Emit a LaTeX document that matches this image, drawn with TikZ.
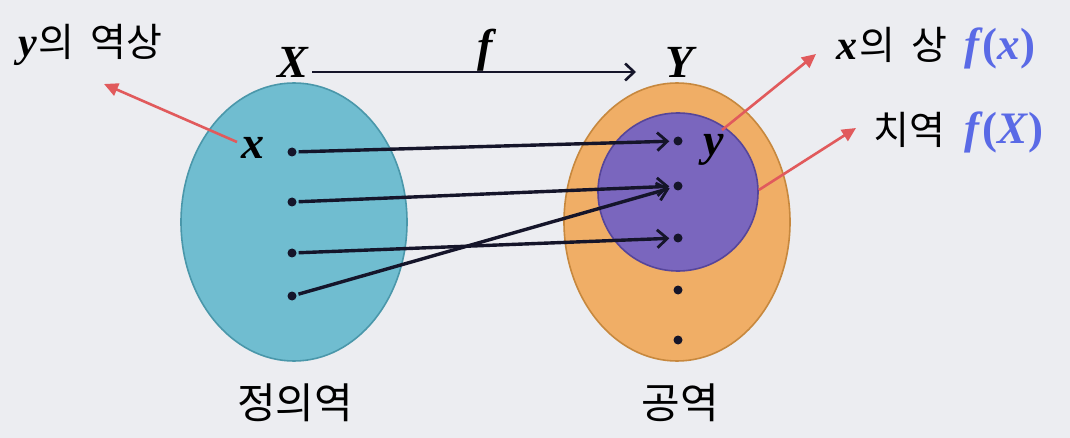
\documentclass[tikz,border=0pt]{standalone}
\usepackage{fontspec}
\newfontfamily\kr{Noto Sans CJK KR}
\newfontfamily\mfont{Liberation Serif}
\newcommand\mvar[1]{{\mfont\bfseries\itshape #1}}
\usetikzlibrary{shapes.geometric,arrows.meta,positioning,calc}
\definecolor{bg}{HTML}{ECEDF1}
\definecolor{dom}{HTML}{70BDD0}
\definecolor{domb}{HTML}{4A97AA}
\definecolor{cod}{HTML}{F0AE66}
\definecolor{codb}{HTML}{C7883E}
\definecolor{rng}{HTML}{7A66BE}
\definecolor{rngb}{HTML}{56459A}
\definecolor{redl}{HTML}{E15A5C}
\definecolor{bluef}{HTML}{5A6AE6}
\definecolor{ink}{HTML}{15152A}
\tikzset{
  dotn/.style={circle,fill=ink,inner sep=0pt,minimum size=9pt},
  maparrow/.style={draw=ink,line width=3.4pt,-{Straight Barb[length=10pt,width=18pt,line width=2.8pt]},shorten >=4pt,shorten <=2pt},
  redarrow/.style={draw=redl,line width=2.6pt,-{Triangle[length=14pt,width=13pt]}},
  kor/.style={font=\kr\fontsize{39}{40}\selectfont,inner sep=0pt},
  mth/.style={font=\mfont\bfseries\itshape\fontsize{46}{48}\selectfont,inner sep=0pt},
  fnl/.style={text=bluef,anchor=west,inner sep=0pt,font=\mfont\bfseries\fontsize{45}{48}\selectfont},
  blob/.style={ellipse,inner sep=0pt,line width=1.6pt}
}
\begin{document}
\begin{tikzpicture}[x=1pt,y=-1pt]
\fill[bg] (0,0) rectangle (1070,438);
\useasboundingbox (0,0) rectangle (1070,438);
% sets
\node[blob,draw=domb,fill=dom,minimum width=226pt,minimum height=278pt] (A) at (294,222) {};
\node[blob,draw=codb,fill=cod,minimum width=226pt,minimum height=278pt] (B) at (677,222) {};
\node[blob,draw=rngb,fill=rng,minimum width=160pt,minimum height=158pt] (R) at (678,192) {};
% dots
\node[dotn] (a1) at (292,152) {};
\node[dotn] (a2) at (292,202) {};
\node[dotn] (a3) at (292,253) {};
\node[dotn] (a4) at (292,296) {};
\node[dotn] (b1) at (678,141) {};
\node[dotn] (b2) at (678,186) {};
\node[dotn] (b3) at (678,238) {};
\node[dotn] (b4) at (678,290) {};
\node[dotn] (b5) at (678,340) {};
% mapping arrows
\draw[maparrow] (a1) -- (b1);
\draw[maparrow] (a2) -- (b2);
\draw[maparrow] (a3) -- (b3);
\draw[maparrow] (a4) -- (b2);
% labels X, Y, f
\node[mth] (X) at (293,62) {X};
\node[mth] (Y) at (680,62) {Y};
\node[mth] (f) at (485,50) {f};
\coordinate (xs) at (312,72);
\coordinate (ye) at (636,72);
\draw[draw=ink,line width=2.8pt,-{Straight Barb[length=9pt,width=17pt,line width=2.6pt]}] (xs) -- (ye);
% element labels
\node[mth] (x) at (253,148) {x};
\node[mth] (y) at (714,150) {y};
% red annotation arrows
\coordinate (t1) at (104,84);
\coordinate (t2) at (816,54);
\coordinate (t3) at (856,128);
\coordinate (s3) at ($(R.east)+(0,-2)$);
\draw[redarrow] (237,142) -- (t1);
\draw[redarrow] (722,130) -- (t2);
\draw[redarrow] (s3) -- (t3);
% text labels
\node[kor,anchor=west] (inv) at (18,45) {\mvar{\fontsize{42}{42}\selectfont y}\hspace{2pt}의\hspace{16pt}역상};
\node[kor,anchor=west] (img) at (836,45) {\mvar{\fontsize{42}{42}\selectfont x}\hspace{2pt}의\hspace{16pt}상};
\node[fnl] (fx) at (964,48) {\textit{f}(\textit{x})};
\node[kor,anchor=west] (ran) at (873,130) {치역};
\node[fnl] (fX) at (964,132) {\textit{f}(\textit{X})};
\node[kor,font=\kr\fontsize{42}{44}\selectfont] (domt) at (295,403) {정의역};
\node[kor,font=\kr\fontsize{42}{44}\selectfont] (codt) at (680,403) {공역};
\end{tikzpicture}
\end{document}
